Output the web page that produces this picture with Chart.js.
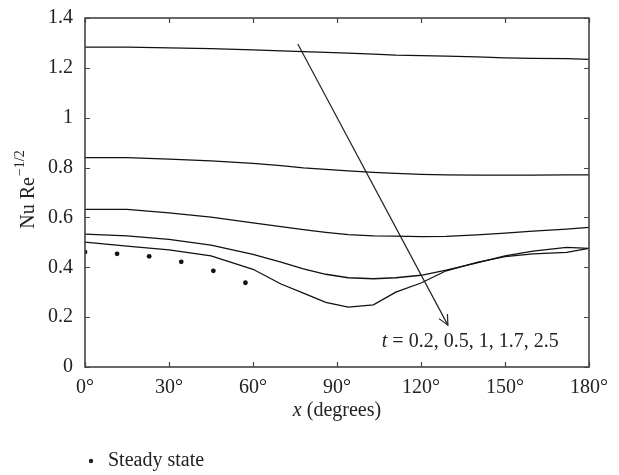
<!DOCTYPE html>
<html>
<head>
<meta charset="utf-8">
<script src="https://cdn.jsdelivr.net/npm/chart.js@4/dist/chart.umd.min.js"></script>
<style>
  html, body { margin: 0; padding: 0; background: #fff; }
  #wrap { width: 619px; height: 475px; }
</style>
</head>
<body>
<div id="wrap"><canvas id="c" width="619" height="475"></canvas></div>
<script>
// ---- data ----
const xDeg = [0, 15, 30, 45, 60, 70, 78, 86, 94, 103, 111, 120, 129, 140, 150, 160, 172, 180];
const t02  = [1.283, 1.283, 1.280, 1.277, 1.272, 1.268, 1.265, 1.262, 1.259, 1.255, 1.251, 1.249, 1.247, 1.244, 1.240, 1.238, 1.237, 1.234];
const t05  = [0.840, 0.840, 0.834, 0.827, 0.817, 0.808, 0.799, 0.793, 0.787, 0.781, 0.777, 0.773, 0.771, 0.770, 0.770, 0.770, 0.771, 0.771];
const t1   = [0.632, 0.632, 0.618, 0.601, 0.578, 0.563, 0.551, 0.540, 0.531, 0.526, 0.525, 0.523, 0.524, 0.530, 0.537, 0.545, 0.553, 0.560];
const t17  = [0.533, 0.526, 0.512, 0.489, 0.452, 0.421, 0.394, 0.372, 0.358, 0.354, 0.358, 0.368, 0.389, 0.418, 0.446, 0.465, 0.480, 0.476];
const t25  = [0.501, 0.485, 0.470, 0.446, 0.392, 0.333, 0.296, 0.259, 0.240, 0.249, 0.300, 0.337, 0.386, 0.420, 0.443, 0.454, 0.460, 0.476];
const steadyX = [0, 11.46, 22.92, 34.38, 45.84, 57.30];
const steadyY = [0.461, 0.454, 0.444, 0.422, 0.386, 0.338];
const arrowX = [76, 129.6];
const arrowY = [1.296, 0.168];
const xTicks = [0, 30, 60, 90, 120, 150, 180];
const yTicks = [0, 0.2, 0.4, 0.6, 0.8, 1, 1.2, 1.4];
const annotText = ["t", " = 0.2, 0.5, 1, 1.7, 2.5"];
const annotAt = [106, 0.100];
const legendLabel = "Steady state";

const FONT = "'Liberation Serif', 'DejaVu Serif', serif";
const FS = 20;
const pts = (xs, ys) => xs.map((x, i) => ({x: x, y: ys[i]}));
const lineDs = (label, ys) => ({
  label: label, data: pts(xDeg, ys), borderColor: '#111', borderWidth: 1.3,
  pointRadius: 0, showLine: true, tension: 0, fill: false
});

const decor = {
  id: 'decor',
  afterDraw(chart) {
    const ctx = chart.ctx, xs = chart.scales.x, ys = chart.scales.y, a = chart.chartArea;
    ctx.save();
    // frame
    ctx.strokeStyle = '#444'; ctx.lineWidth = 1.6;
    ctx.strokeRect(a.left, a.top, a.right - a.left, a.bottom - a.top);
    // inward ticks
    ctx.lineWidth = 1.2;
    const tl = 5;
    ctx.beginPath();
    xTicks.forEach(v => {
      const p = Math.round(xs.getPixelForValue(v)) + 0.5;
      ctx.moveTo(p, a.bottom); ctx.lineTo(p, a.bottom - tl);
      ctx.moveTo(p, a.top); ctx.lineTo(p, a.top + tl);
    });
    yTicks.forEach(v => {
      const p = Math.round(ys.getPixelForValue(v)) + 0.5;
      ctx.moveTo(a.left, p); ctx.lineTo(a.left + tl, p);
      ctx.moveTo(a.right, p); ctx.lineTo(a.right - tl, p);
    });
    ctx.stroke();

    ctx.fillStyle = '#222';
    // arrow head
    const ex = xs.getPixelForValue(arrowX[1]), ey = ys.getPixelForValue(arrowY[1]);
    const sx = xs.getPixelForValue(arrowX[0]), sy = ys.getPixelForValue(arrowY[0]);
    const ang = Math.atan2(ey - sy, ex - sx), hl = 11, ha = 0.45;
    ctx.strokeStyle = '#222'; ctx.lineWidth = 1.2;
    ctx.beginPath();
    ctx.moveTo(ex - hl * Math.cos(ang - ha), ey - hl * Math.sin(ang - ha));
    ctx.lineTo(ex, ey);
    ctx.lineTo(ex - hl * Math.cos(ang + ha), ey - hl * Math.sin(ang + ha));
    ctx.stroke();

    // annotation text
    ctx.textBaseline = 'middle'; ctx.textAlign = 'left';
    let ax = xs.getPixelForValue(annotAt[0]), ay = ys.getPixelForValue(annotAt[1]);
    ctx.font = 'italic ' + FS + 'px ' + FONT;
    ctx.fillText(annotText[0], ax, ay);
    ax += ctx.measureText(annotText[0]).width;
    ctx.font = FS + 'px ' + FONT;
    ctx.fillText(annotText[1], ax, ay);

    // x title
    const xt1 = 'x', xt2 = ' (degrees)';
    ctx.font = 'italic ' + FS + 'px ' + FONT; const w1 = ctx.measureText(xt1).width;
    ctx.font = FS + 'px ' + FONT; const w2 = ctx.measureText(xt2).width;
    let cx = (a.left + a.right) / 2 - (w1 + w2) / 2;
    const ty = 411;
    ctx.font = 'italic ' + FS + 'px ' + FONT; ctx.fillText(xt1, cx, ty);
    ctx.font = FS + 'px ' + FONT; ctx.fillText(xt2, cx + w1, ty);

    // y title (rotated)
    ctx.save();
    ctx.translate(29, 190);
    ctx.rotate(-Math.PI / 2);
    const yt1 = 'Nu Re', yt2 = '\u22121/2';
    ctx.font = FS + 'px ' + FONT; const v1 = ctx.measureText(yt1).width;
    ctx.font = '14px ' + FONT; const v2 = ctx.measureText(yt2).width;
    const sx0 = -(v1 + v2) / 2;
    ctx.font = FS + 'px ' + FONT; ctx.fillText(yt1, sx0, 0);
    ctx.font = '14px ' + FONT; ctx.fillText(yt2, sx0 + v1 + 1, -9);
    ctx.restore();

    // legend
    ctx.beginPath(); ctx.arc(91, 461, 2.2, 0, Math.PI * 2); ctx.fill();
    ctx.font = FS + 'px ' + FONT; ctx.fillText(legendLabel, 108, 461);
    ctx.restore();
  }
};

new Chart(document.getElementById('c'), {
  type: 'scatter',
  data: {
    datasets: [
      lineDs('t = 0.2', t02),
      lineDs('t = 0.5', t05),
      lineDs('t = 1', t1),
      lineDs('t = 1.7', t17),
      lineDs('t = 2.5', t25),
      { label: legendLabel, data: pts(steadyX, steadyY), showLine: false,
        pointRadius: 2.4, pointBackgroundColor: '#111', pointBorderWidth: 0, borderColor: '#111' },
      { label: 'arrow', data: pts(arrowX, arrowY), showLine: true, borderColor: '#222',
        borderWidth: 1.2, pointRadius: 0, tension: 0 }
    ]
  },
  options: {
    responsive: false, animation: false, devicePixelRatio: 1,
    layout: { padding: { left: 0, top: 18, right: 30, bottom: 0 } },
    plugins: { legend: { display: false }, tooltip: { enabled: false } },
    scales: {
      x: {
        type: 'linear', min: 0, max: 180,
        afterBuildTicks: s => { s.ticks = xTicks.map(v => ({value: v})); },
        afterFit: s => { s.height = 108; s.paddingLeft = 0; s.paddingRight = 0; },
        grid: { display: false, drawTicks: false },
        border: { display: false },
        ticks: { padding: 9, color: '#222', font: { family: FONT, size: FS },
                 maxRotation: 0, callback: v => v + '\u00b0' }
      },
      y: {
        type: 'linear', min: 0, max: 1.4,
        afterBuildTicks: s => { s.ticks = yTicks.map(v => ({value: v})); },
        afterFit: s => { s.width = 85; s.paddingTop = 0; s.paddingBottom = 0; },
        grid: { display: false, drawTicks: false },
        border: { display: false },
        ticks: { padding: 12, color: '#222', font: { family: FONT, size: FS },
                 callback: v => (v === 0 || v === 1) ? String(v) : v.toFixed(1) }
      }
    }
  },
  plugins: [decor]
});
</script>
</body>
</html>
